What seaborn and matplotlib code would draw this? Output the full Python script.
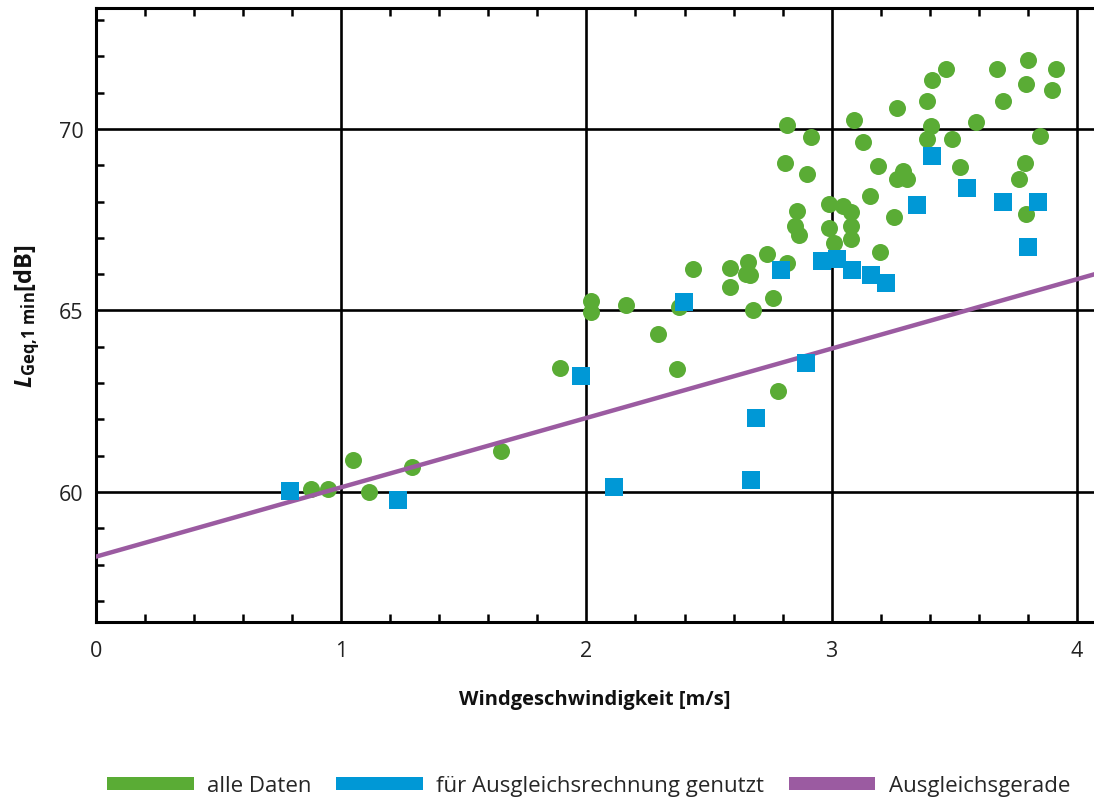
import numpy as np
import pandas as pd
import matplotlib
matplotlib.use("Agg")
import matplotlib.pyplot as plt
from matplotlib.patches import Patch
from matplotlib.ticker import MultipleLocator
import seaborn as sns

# ---- data ----
all_x = [0.876, 0.946, 1.048, 1.113, 1.288, 1.651, 1.892, 2.02, 2.02, 2.16,
         2.29, 2.37, 2.377, 2.434, 2.585, 2.585, 2.65, 2.66, 2.666, 2.678,
         2.735, 2.76, 2.78, 2.817, 2.81, 2.82, 2.85, 2.857, 2.866, 2.90,
         2.915, 2.99, 2.99, 3.009, 3.045, 3.078, 3.078, 3.078, 3.09, 3.127,
         3.155, 3.19, 3.196, 3.253, 3.266, 3.266, 3.29, 3.306, 3.39, 3.39,
         3.404, 3.408, 3.465, 3.49, 3.525, 3.587, 3.673, 3.698, 3.763, 3.787,
         3.791, 3.791, 3.80, 3.848, 3.897, 3.914]
all_y = [60.08, 60.08, 60.88, 60.0, 60.69, 61.13, 63.42, 65.26, 64.96, 65.15,
         64.35, 63.39, 65.10, 66.14, 66.17, 65.65, 66.0, 66.34, 65.98, 65.01,
         66.56, 65.34, 62.78, 66.31, 69.06, 70.11, 67.33, 67.74, 67.08, 68.76,
         69.78, 67.93, 67.27, 66.85, 67.88, 67.71, 67.33, 66.97, 70.25, 69.64,
         68.15, 68.98, 66.61, 67.58, 70.58, 68.62, 68.85, 68.62, 69.72, 70.77,
         70.08, 71.35, 71.65, 69.72, 68.95, 70.19, 71.65, 70.77, 68.62, 69.06,
         67.66, 71.24, 71.90, 69.80, 71.07, 71.65]

fit_x = [0.791, 1.231, 1.977, 2.112, 2.397, 2.67, 2.69, 2.793, 2.894, 2.96,
         3.02, 3.082, 3.16, 3.22, 3.347, 3.408, 3.551, 3.70, 3.80, 3.84]
fit_y = [60.03, 59.78, 63.20, 60.14, 65.23, 60.33, 62.04, 66.12, 63.55, 66.36,
         66.42, 66.12, 65.98, 65.76, 67.90, 69.26, 68.37, 67.99, 66.75, 67.99]

line_intercept = 58.22
line_slope = 1.91

x_ticks = [0, 1, 2, 3, 4]
y_ticks = [60, 65, 70]
legend_labels = ["alle Daten", "für Ausgleichsrechnung genutzt", "Ausgleichsgerade"]

GREEN = "#5aac35"
BLUE = "#0098d6"
PURPLE = "#9b5ba1"

sns.set_theme(style="white")
plt.rcParams["font.family"] = ["Open Sans", "DejaVu Sans"]
plt.rcParams["mathtext.fontset"] = "custom"
plt.rcParams["mathtext.rm"] = "Open Sans"
plt.rcParams["mathtext.bf"] = "Open Sans:bold"
plt.rcParams["mathtext.it"] = "Open Sans:italic"
plt.rcParams["mathtext.bfit"] = "Open Sans:bold:italic"

fig = plt.figure(figsize=(10.94, 8.03), dpi=100)
ax = fig.add_axes([96 / 1094, 1 - 623 / 803, 1 - 96 / 1094, (623 - 9) / 803])

df_all = pd.DataFrame({"x": all_x, "y": all_y})
df_fit = pd.DataFrame({"x": fit_x, "y": fit_y})
lx = np.array([0.0, 4.1])
df_line = pd.DataFrame({"x": lx, "y": line_intercept + line_slope * lx})

sns.scatterplot(data=df_all, x="x", y="y", ax=ax, color=GREEN, marker="o",
                s=150, linewidth=0, zorder=3, legend=False)
sns.lineplot(data=df_line, x="x", y="y", ax=ax, color=PURPLE, linewidth=3.2,
             zorder=4, legend=False)
sns.scatterplot(data=df_fit, x="x", y="y", ax=ax, color=BLUE, marker="s",
                s=150, linewidth=0, zorder=5, legend=False)

ax.set_xlim(0, 4.07)
ax.set_ylim(56.42, 73.33)
ax.set_xticks(x_ticks)
ax.set_yticks(y_ticks)
ax.xaxis.set_minor_locator(MultipleLocator(0.2))
ax.yaxis.set_minor_locator(MultipleLocator(1))
ax.grid(True, which="major", color="black", linewidth=1.9, zorder=1)
ax.set_axisbelow(True)

for side in ["left", "bottom", "top"]:
    ax.spines[side].set_visible(True)
    ax.spines[side].set_color("black")
    ax.spines[side].set_linewidth(2.2)
ax.spines["right"].set_visible(False)

ax.tick_params(which="both", direction="in", top=True, bottom=True, left=True,
               right=False, color="black", width=1.8, labelsize=15.5,
               labelcolor="#222222")
ax.tick_params(which="major", length=0)
ax.tick_params(axis="x", which="major", pad=13)
ax.tick_params(axis="y", which="major", pad=9)
ax.tick_params(which="minor", length=6)
ax.tick_params(axis="x", which="both", labeltop=False)

ax.set_xlabel("Windgeschwindigkeit [m/s]", fontsize=14.5, fontweight="bold",
              labelpad=20, color="#111111")
ax.set_ylabel(r"$\mathbfit{L}_{\mathbf{Geq{,}1\ min}}$" + "[dB]", fontsize=17,
              fontweight="bold", labelpad=12, color="#111111")

handles = [Patch(facecolor=GREEN, edgecolor="none"),
           Patch(facecolor=BLUE, edgecolor="none"),
           Patch(facecolor=PURPLE, edgecolor="none")]
fig.legend(handles, legend_labels, loc="lower center", ncol=3, frameon=False,
           bbox_to_anchor=(0.538, -0.018), fontsize=16, handlelength=3.9,
           handleheight=0.55, handletextpad=0.6, columnspacing=1.1)

fig.savefig("out.png", dpi=100)
